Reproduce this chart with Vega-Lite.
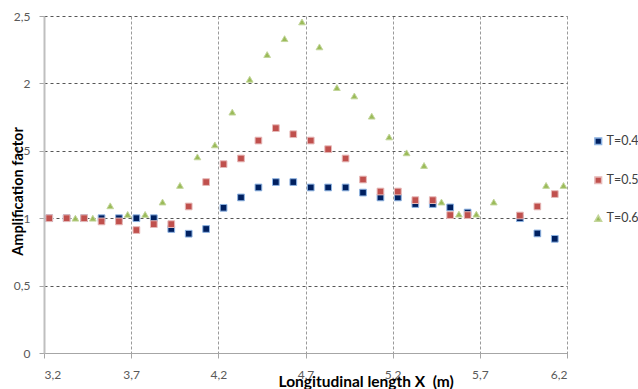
{
  "$schema": "https://vega.github.io/schema/vega-lite/v6.json",
  "width": 523,
  "height": 337,
  "autosize": "none",
  "padding": {"left": 44, "top": 16, "right": 71, "bottom": 36},
  "background": "white",
  "config": {
    "view": {"stroke": null},
    "font": "Lato"
  },
  "data": {
    "values": [
      {"x": 3.23, "y": 1.0, "s": "T=0.4s"},
      {"x": 3.33, "y": 1.0, "s": "T=0.4s"},
      {"x": 3.43, "y": 1.0, "s": "T=0.4s"},
      {"x": 3.53, "y": 1.0, "s": "T=0.4s"},
      {"x": 3.63, "y": 1.0, "s": "T=0.4s"},
      {"x": 3.73, "y": 1.0, "s": "T=0.4s"},
      {"x": 3.83, "y": 1.0, "s": "T=0.4s"},
      {"x": 3.93, "y": 0.92, "s": "T=0.4s"},
      {"x": 4.03, "y": 0.885, "s": "T=0.4s"},
      {"x": 4.13, "y": 0.92, "s": "T=0.4s"},
      {"x": 4.23, "y": 1.077, "s": "T=0.4s"},
      {"x": 4.33, "y": 1.154, "s": "T=0.4s"},
      {"x": 4.43, "y": 1.228, "s": "T=0.4s"},
      {"x": 4.53, "y": 1.268, "s": "T=0.4s"},
      {"x": 4.63, "y": 1.268, "s": "T=0.4s"},
      {"x": 4.73, "y": 1.228, "s": "T=0.4s"},
      {"x": 4.83, "y": 1.228, "s": "T=0.4s"},
      {"x": 4.93, "y": 1.228, "s": "T=0.4s"},
      {"x": 5.03, "y": 1.19, "s": "T=0.4s"},
      {"x": 5.13, "y": 1.154, "s": "T=0.4s"},
      {"x": 5.23, "y": 1.154, "s": "T=0.4s"},
      {"x": 5.33, "y": 1.105, "s": "T=0.4s"},
      {"x": 5.43, "y": 1.105, "s": "T=0.4s"},
      {"x": 5.53, "y": 1.08, "s": "T=0.4s"},
      {"x": 5.63, "y": 1.042, "s": "T=0.4s"},
      {"x": 5.93, "y": 1.0, "s": "T=0.4s"},
      {"x": 6.03, "y": 0.887, "s": "T=0.4s"},
      {"x": 6.13, "y": 0.847, "s": "T=0.4s"},
      {"x": 3.23, "y": 1.0, "s": "T=0.5s"},
      {"x": 3.33, "y": 1.0, "s": "T=0.5s"},
      {"x": 3.43, "y": 1.0, "s": "T=0.5s"},
      {"x": 3.53, "y": 0.976, "s": "T=0.5s"},
      {"x": 3.63, "y": 0.976, "s": "T=0.5s"},
      {"x": 3.73, "y": 0.912, "s": "T=0.5s"},
      {"x": 3.83, "y": 0.956, "s": "T=0.5s"},
      {"x": 3.93, "y": 0.956, "s": "T=0.5s"},
      {"x": 4.03, "y": 1.087, "s": "T=0.5s"},
      {"x": 4.13, "y": 1.268, "s": "T=0.5s"},
      {"x": 4.23, "y": 1.401, "s": "T=0.5s"},
      {"x": 4.33, "y": 1.443, "s": "T=0.5s"},
      {"x": 4.43, "y": 1.576, "s": "T=0.5s"},
      {"x": 4.53, "y": 1.668, "s": "T=0.5s"},
      {"x": 4.63, "y": 1.623, "s": "T=0.5s"},
      {"x": 4.73, "y": 1.576, "s": "T=0.5s"},
      {"x": 4.83, "y": 1.512, "s": "T=0.5s"},
      {"x": 4.93, "y": 1.443, "s": "T=0.5s"},
      {"x": 5.03, "y": 1.287, "s": "T=0.5s"},
      {"x": 5.13, "y": 1.198, "s": "T=0.5s"},
      {"x": 5.23, "y": 1.198, "s": "T=0.5s"},
      {"x": 5.33, "y": 1.134, "s": "T=0.5s"},
      {"x": 5.43, "y": 1.134, "s": "T=0.5s"},
      {"x": 5.53, "y": 1.023, "s": "T=0.5s"},
      {"x": 5.63, "y": 1.023, "s": "T=0.5s"},
      {"x": 5.93, "y": 1.02, "s": "T=0.5s"},
      {"x": 6.03, "y": 1.087, "s": "T=0.5s"},
      {"x": 6.13, "y": 1.179, "s": "T=0.5s"},
      {"x": 3.38, "y": 1.0, "s": "T=0.6s"},
      {"x": 3.48, "y": 1.0, "s": "T=0.6s"},
      {"x": 3.58, "y": 1.092, "s": "T=0.6s"},
      {"x": 3.68, "y": 1.028, "s": "T=0.6s"},
      {"x": 3.78, "y": 1.028, "s": "T=0.6s"},
      {"x": 3.88, "y": 1.12, "s": "T=0.6s"},
      {"x": 3.98, "y": 1.243, "s": "T=0.6s"},
      {"x": 4.08, "y": 1.455, "s": "T=0.6s"},
      {"x": 4.18, "y": 1.544, "s": "T=0.6s"},
      {"x": 4.28, "y": 1.787, "s": "T=0.6s"},
      {"x": 4.38, "y": 2.031, "s": "T=0.6s"},
      {"x": 4.48, "y": 2.214, "s": "T=0.6s"},
      {"x": 4.58, "y": 2.332, "s": "T=0.6s"},
      {"x": 4.68, "y": 2.456, "s": "T=0.6s"},
      {"x": 4.78, "y": 2.271, "s": "T=0.6s"},
      {"x": 4.88, "y": 1.969, "s": "T=0.6s"},
      {"x": 4.98, "y": 1.907, "s": "T=0.6s"},
      {"x": 5.08, "y": 1.757, "s": "T=0.6s"},
      {"x": 5.18, "y": 1.603, "s": "T=0.6s"},
      {"x": 5.28, "y": 1.485, "s": "T=0.6s"},
      {"x": 5.38, "y": 1.391, "s": "T=0.6s"},
      {"x": 5.48, "y": 1.12, "s": "T=0.6s"},
      {"x": 5.58, "y": 1.03, "s": "T=0.6s"},
      {"x": 5.68, "y": 1.03, "s": "T=0.6s"},
      {"x": 5.78, "y": 1.12, "s": "T=0.6s"},
      {"x": 6.08, "y": 1.243, "s": "T=0.6s"},
      {"x": 6.18, "y": 1.243, "s": "T=0.6s"}
    ]
  },
  "mark": {"type": "point", "filled": true, "opacity": 1, "strokeWidth": 1},
  "encoding": {
    "x": {
      "field": "x", "type": "quantitative",
      "scale": {"domain": [3.2, 6.2], "nice": false, "zero": false},
      "axis": {
        "values": [3.2, 3.7, 4.2, 4.7, 5.2, 5.7, 6.2],
        "labelExpr": "replace(toString(datum.value), '.', ',')",
        "title": "Longitudinal length X\u00a0 (m)",
        "titleFont": "Lato", "titleFontSize": 15.5, "titleFontWeight": "bold", "titleColor": "#000000",
        "titleAnchor": "start", "titleAlign": "left", "titleBaseline": "top", "titleX": 234, "titleY": 21,
        "labelFontSize": 12, "labelColor": "#595959", "labelPadding": 11,
        "domainColor": "#A6A6A6", "domainWidth": 1,
        "tickColor": "#A6A6A6", "tickSize": 5,
        "grid": true, "gridColor": "#9A9A9A", "gridDash": [3, 2], "gridWidth": 1
      }
    },
    "y": {
      "field": "y", "type": "quantitative",
      "scale": {"domain": [0, 2.5], "nice": false},
      "axis": {
        "values": [0, 0.5, 1, 1.5, 2, 2.5],
        "labelExpr": "replace(toString(datum.value), '.', ',')",
        "title": "Amplification factor",
        "titleFont": "Lato", "titleFontSize": 14.5, "titleFontWeight": "bold", "titleColor": "#000000",
        "titleAngle": -90, "titleAlign": "center", "titleBaseline": "middle", "titleX": -26, "titleY": 175,
        "labelFontSize": 12, "labelColor": "#595959", "labelPadding": 9,
        "domainColor": "#BFBFBF", "domainWidth": 2,
        "tickColor": "#A6A6A6", "tickSize": 5,
        "grid": true, "gridColor": "#555555", "gridDash": [3, 3], "gridWidth": 1
      }
    },
    "color": {
      "field": "s", "type": "nominal",
      "scale": {"domain": ["T=0.4s", "T=0.5s", "T=0.6s"], "range": ["#002060", "#C0504D", "#9BBB59"]},
      "legend": {
        "orient": "none", "legendX": 548, "legendY": 119,
        "title": null, "labelFontSize": 12.5, "labelColor": "#404040", "labelFont": "Lato",
        "symbolSize": 45, "rowPadding": 25, "labelOffset": 2
      }
    },
    "shape": {
      "field": "s", "type": "nominal",
      "scale": {"domain": ["T=0.4s", "T=0.5s", "T=0.6s"], "range": ["square", "square", "triangle-up"]}
    },
    "stroke": {
      "field": "s", "type": "nominal",
      "scale": {"domain": ["T=0.4s", "T=0.5s", "T=0.6s"], "range": ["#8DB3E2", "#E6B9B8", "#C3D69B"]},
      "legend": null
    },
    "size": {"value": 45}
  }
}
